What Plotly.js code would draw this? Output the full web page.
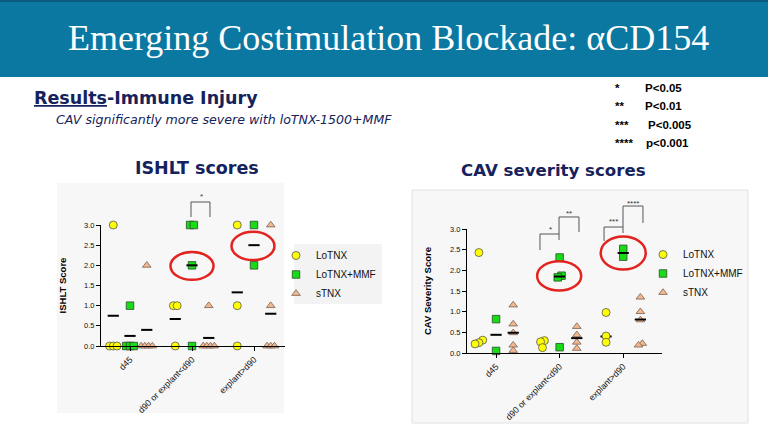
<!DOCTYPE html>
<html><head><meta charset="utf-8">
<script src="https://cdn.plot.ly/plotly-3.0.1.min.js"></script>
<style>html,body{margin:0;padding:0;background:#fff;}#chart{width:768px;height:432px;}</style>
</head><body><div id="chart"></div>
<script>
// ---------- data ----------
const categories = ["d45", "d90 or explant&lt;d90", "explant&gt;d90"];
const seriesNames = ["LoTNX", "LoTNX+MMF", "sTNX"];

// ISHLT scores, one list of animals per category
const ishltLoTNX = [[3, 0, 0, 0], [1, 1, 0], [3, 1, 0]];
const ishltMMF   = [[1, 0, 0, 0], [3, 3, 2, 0], [3, 2]];
const ishltSTNX  = [[2, 0, 0, 0, 0], [1, 0, 0, 0, 0], [3, 1, 0, 0, 0]];
// centre lines drawn on the ISHLT chart
const ishltLineLoTNX = [0.75, 0.67, 1.33];
const ishltLineMMF   = [0.25, 2.0, 2.5];
const ishltLineSTNX  = [0.4, 0.2, 0.8];

// CAV severity scores
const cavLoTNX = [[2.43, 0.31, 0.25, 0.22], [0.30, 0.27, 0.13], [0.98, 0.41, 0.26]];
const cavMMF   = [[0.82, 0.05], [2.31, 1.87, 1.83, 0.14], [2.52, 2.33]];
const cavSTNX  = [[1.16, 0.70, 0.49, 0.19, 0.06], [0.64, 0.44, 0.26, 0.11], [1.35, 1.00, 0.80, 0.23, 0.19]];
const cavLineLoTNX = [0.28, 0.27, 0.40];
const cavLineMMF   = [0.44, 1.85, 2.42];
const cavLineSTNX  = [0.49, 0.36, 0.81];

const yTicks = [0, 0.5, 1.0, 1.5, 2.0, 2.5, 3.0];
const yTickText = ["0.0", "0.5", "1.0", "1.5", "2.0", "2.5", "3.0"];
const pLegendStars = ["*", "**", "***", "****"];
const pLegendText = ["P&lt;0.05", "P&lt;0.01", "P&lt;0.005", "p&lt;0.001"];

// ---------- helpers ----------
const W = 768, H = 432;
const px = v => v / W;
const py = v => 1 - v / H;
const FONT = "Liberation Sans, Arial, sans-serif";
const NAVY = "#15225c";
const offsets = [-0.27, 0, 0.27];
const styles = [
  {symbol: "circle", size: 8, color: "#ffff00", line: {color: "#555", width: 0.8}},
  {symbol: "square", size: 7.5, color: "#18dc18", line: {color: "#2a4a2a", width: 0.8}},
  {symbol: "triangle-up", size: 7.5, color: "#f2b88f", line: {color: "#7a6050", width: 0.8}}
];

// spread points of nearly equal value side by side (beeswarm-like)
function swarm(vals, center, step, thresh) {
  const idx = vals.map((v, i) => i).sort((a, b) => vals[a] - vals[b]);
  const xs = new Array(vals.length);
  const clusters = [];
  let cur = [idx[0]];
  for (let k = 1; k < idx.length; k++) {
    if (vals[idx[k]] - vals[cur[cur.length - 1]] < thresh) cur.push(idx[k]);
    else { clusters.push(cur); cur = [idx[k]]; }
  }
  clusters.push(cur);
  clusters.forEach(c => c.forEach((i, j) => { xs[i] = center + (j - (c.length - 1) / 2) * step; }));
  return xs;
}

function buildTraces(seriesData, lineData, xa, ya, legendId) {
  const under = [], pts = [], over = [];
  seriesData.forEach((byCat, s) => {
    let xs = [], ys = [];
    byCat.forEach((vals, c) => {
      xs = xs.concat(swarm(vals, c + offsets[s], 0.06, 0.12));
      ys = ys.concat(vals);
    });
    pts.push({
      type: "scatter", mode: "markers", x: xs, y: ys, name: seriesNames[s],
      xaxis: xa, yaxis: ya, legend: legendId, cliponaxis: false,
      marker: styles[s], hoverinfo: "skip"
    });
    const ln = {
      type: "scatter", mode: "markers", x: lineData[s].map((v, c) => c + offsets[s]), y: lineData[s],
      xaxis: xa, yaxis: ya, showlegend: false, cliponaxis: false, hoverinfo: "skip",
      marker: {symbol: "line-ew", size: 8, color: "#000", line: {color: "#000", width: 2}}
    };
    (s === 0 ? under : over).push(ln);
  });
  return under.concat(pts, over);
}

const traces = []
  .concat(buildTraces([ishltLoTNX, ishltMMF, ishltSTNX], [ishltLineLoTNX, ishltLineMMF, ishltLineSTNX], "x", "y", "legend"))
  .concat(buildTraces([cavLoTNX, cavMMF, cavSTNX], [cavLineLoTNX, cavLineMMF, cavLineSTNX], "x2", "y2", "legend2"));

const yTickFont = {family: FONT, size: 7.5, color: "#111"};
const xTickFont = {family: FONT, size: 8.8, color: "#111"};
function xAxis(domain, range, anchor) {
  return {domain: domain, range: range, anchor: anchor, tickmode: "array", tickvals: [0, 1, 2], ticktext: categories,
    tickangle: -45, ticks: "outside", ticklen: 4, tickwidth: 1, tickcolor: "#000",
    showline: true, linecolor: "#000", linewidth: 1, showgrid: false, zeroline: false,
    tickfont: xTickFont, fixedrange: true};
}
function yAxis(domain, anchor, title, standoff) {
  return {domain: domain, range: [0, 3], anchor: anchor, tickmode: "array", tickvals: yTicks, ticktext: yTickText,
    ticks: "outside", ticklen: 4, tickwidth: 1, tickcolor: "#000",
    showline: true, linecolor: "#000", linewidth: 1, showgrid: false, zeroline: false,
    tickfont: yTickFont, fixedrange: true,
    title: {text: title, font: {family: FONT, size: 9.5, color: "#000", weight: "bold"}, standoff: standoff}};
}

const shapes = [
  {type: "rect", xref: "paper", yref: "paper", x0: 0, x1: 1, y0: py(77), y1: 1, fillcolor: "#0a78a1", line: {width: 0}, layer: "below"},
  {type: "rect", xref: "paper", yref: "paper", x0: 0, x1: 1, y0: py(2), y1: 1, fillcolor: "#0b5d80", line: {width: 0}, layer: "below"},
  {type: "rect", xref: "paper", yref: "paper", x0: px(57), x1: px(284), y0: py(413), y1: py(183), fillcolor: "#f7f7f7", line: {width: 0}, layer: "below"},
  {type: "rect", xref: "paper", yref: "paper", x0: px(294), x1: px(382), y0: py(304), y1: py(244), fillcolor: "#f3f3f3", line: {width: 0}, layer: "below"},
  {type: "rect", xref: "paper", yref: "paper", x0: px(412), x1: px(748), y0: py(423), y1: py(190), fillcolor: "#f7f7f7", line: {color: "#e2e2e2", width: 1}, layer: "below"},
  // red ellipses around the key groups
  {type: "circle", xref: "x", yref: "y", x0: 0.653, x1: 1.347, y0: 1.64, y1: 2.33, line: {color: "#e3231f", width: 2.5}},
  {type: "circle", xref: "x", yref: "y", x0: 1.637, x1: 2.33, y0: 2.13, y1: 2.83, line: {color: "#e3231f", width: 2.5}},
  {type: "circle", xref: "x2", yref: "y2", x0: 0.646, x1: 1.339, y0: 1.51, y1: 2.22, line: {color: "#e3231f", width: 2.5}},
  {type: "circle", xref: "x2", yref: "y2", x0: 1.646, x1: 2.354, y0: 2.02, y1: 2.82, line: {color: "#e3231f", width: 2.5}}
];
function bracket(pts) {
  const d = pts.map((p, i) => (i ? "L" : "M") + px(p[0]).toFixed(4) + "," + py(p[1]).toFixed(4)).join(" ");
  shapes.push({type: "path", xref: "paper", yref: "paper", path: d, line: {color: "#555", width: 1}});
}
bracket([[191, 217], [191, 202], [210, 202], [210, 217]]);
bracket([[540, 250], [540, 234], [559, 234]]);
bracket([[559, 240], [559, 217], [579, 217], [579, 232]]);
bracket([[604, 241], [604, 227], [623, 227]]);
bracket([[623, 233], [623, 206], [643, 206], [643, 223]]);

function note(text, x, y, font, xanchor) {
  return {text: text, x: px(x), y: py(y), xref: "paper", yref: "paper", xanchor: xanchor || "center", yanchor: "middle",
    showarrow: false, font: font};
}
const annotations = [
  note("Emerging Costimulation Blockade: αCD154", 388, 38, {family: "Liberation Serif, serif", size: 36, color: "#fff"}),
  note("<u>Results</u>-Immune Injury", 32, 98, {family: "DejaVu Sans, sans-serif", size: 17.5, color: NAVY, weight: "bold"}, "left"),
  note("<i>CAV significantly more severe with loTNX-1500+MMF</i>", 54, 119, {family: "DejaVu Sans, sans-serif", size: 12.6, color: NAVY}, "left"),
  note("ISHLT scores", 197, 168, {family: "DejaVu Sans, sans-serif", size: 17.5, color: NAVY, weight: "bold"}),
  note("CAV severity scores", 553, 171, {family: "DejaVu Sans, sans-serif", size: 16.6, color: NAVY, weight: "bold"})
];
const starXY = [["*", 201, 196], ["*", 550, 229], ["**", 569, 213], ["***", 613, 221], ["****", 633, 203]];
starXY.forEach(s => annotations.push(note(s[0], s[1], s[2], {family: FONT, size: 8, color: "#333"})));
const pRows = [88, 106, 125, 143];
const pTextX = [643, 643, 646, 644];
pLegendStars.forEach((st, i) => {
  annotations.push(note("<b>" + st + "</b>", 613, pRows[i], {family: FONT, size: 11.5, color: "#000"}, "left"));
  annotations.push(note("<b>" + pLegendText[i] + "</b>", pTextX[i], pRows[i], {family: FONT, size: 11.5, color: "#000"}, "left"));
});

const legendFont = {family: FONT, size: 10, color: "#111"};
const layout = {
  width: W, height: H, margin: {l: 0, r: 0, t: 0, b: 0},
  paper_bgcolor: "#fff", plot_bgcolor: "rgba(0,0,0,0)",
  xaxis: xAxis([px(101), px(285)], [-0.468, 2.5], "y"),
  yaxis: yAxis([py(346), py(225)], "x", "ISHLT Score", 15),
  xaxis2: xAxis([px(467), px(662)], [-0.457, 2.61], "y2"),
  yaxis2: yAxis([py(353), py(229)], "x2", "CAV Severity Score", 16),
  legend: {x: px(276), y: py(241), xanchor: "left", yanchor: "top", bgcolor: "rgba(0,0,0,0)", font: legendFont},
  legend2: {x: px(643), y: py(240), xanchor: "left", yanchor: "top", bgcolor: "rgba(0,0,0,0)", font: legendFont},
  shapes: shapes, annotations: annotations, showlegend: true
};

Plotly.newPlot("chart", traces, layout, {staticPlot: true, displayModeBar: false});
</script></body></html>
